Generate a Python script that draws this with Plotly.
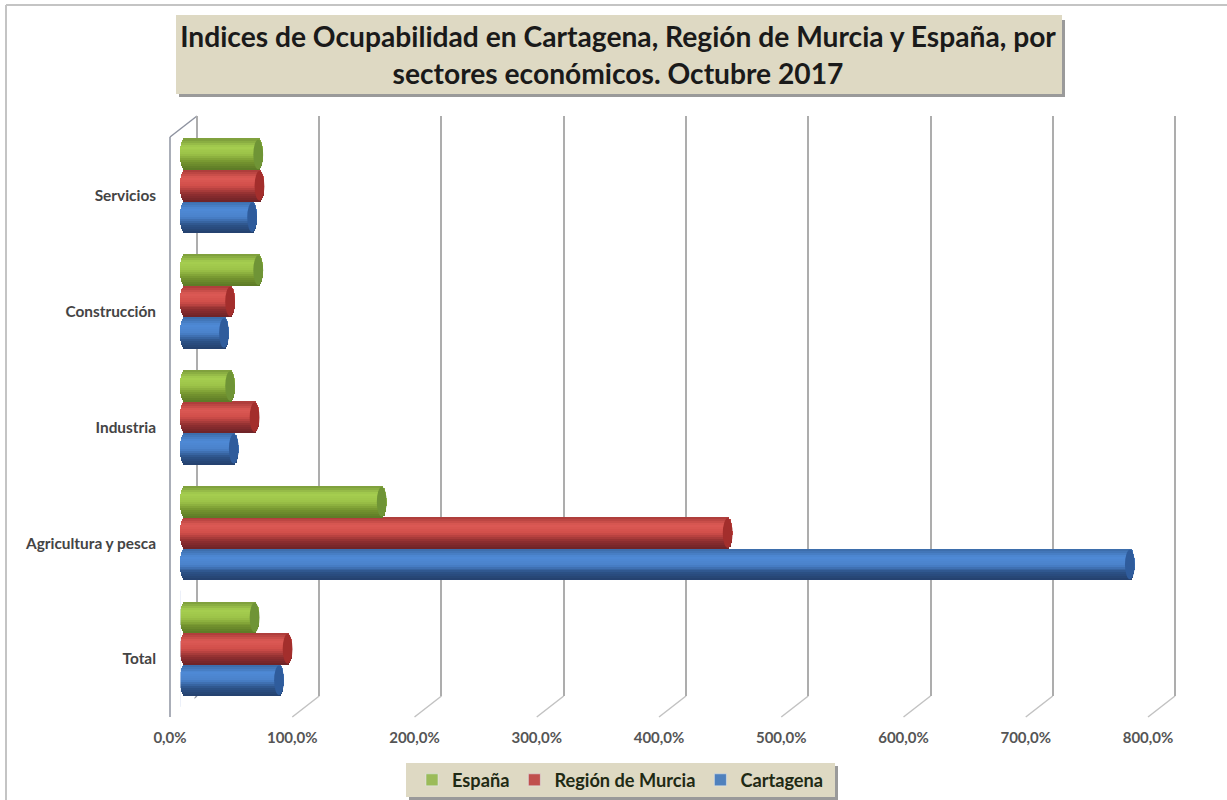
import plotly.graph_objects as go
import math

W, H = 1227, 800
categories = ["Total", "Agricultura y pesca", "Industria", "Construcción", "Servicios"]
espana = [65, 169, 45, 68, 68]
murcia = [92, 452, 65, 45, 69]
cartagena = [85, 781, 48, 40, 63]
value_ticks = [0, 100, 200, 300, 400, 500, 600, 700, 800]
value_labels = ["0,0%", "100,0%", "200,0%", "300,0%", "400,0%", "500,0%", "600,0%", "700,0%", "800,0%"]

def px(x): return x / W
def py(y): return 1 - y / H

PER_100 = 122.25
PAD = 2  # axis units added each side of the back-wall axis so that its 0 and 800 gridlines are kept

series = [
    ("Cartagena", cartagena, -0.406, ["#3a6aa6", "#4f8ad6", "#4a82cb", "#2c5288", "#24406c"], "#2f5c9c", "#4f81bd"),
    ("Región de Murcia", murcia, -0.135, ["#a83a38", "#dd5a55", "#d04e4a", "#8f2f30", "#6c2227"], "#a32e2c", "#c0504d"),
    ("España", espana, 0.136, ["#7a9a3a", "#a6cf50", "#9cc248", "#74942f", "#5b7826"], "#6f9436", "#9bbb59"),
]
THICK = 0.272
N = 16
CAP = 4.0  # half-width of the end ellipse, in axis units

def lerp_stops(stops, t):
    s = t * (len(stops) - 1)
    i = min(int(s), len(stops) - 2)
    f = s - i
    a = [int(stops[i][j:j + 2], 16) for j in (1, 3, 5)]
    b = [int(stops[i + 1][j:j + 2], 16) for j in (1, 3, 5)]
    return "rgb(%d,%d,%d)" % tuple(round(a[k] + (b[k] - a[k]) * f) for k in range(3))

fig = go.Figure()

# invisible trace that makes the back-wall axes (first subplot, drawn beneath the bars) exist
fig.add_trace(go.Scatter(x=[0, 800], y=[0, 1], xaxis="x", yaxis="y", mode="markers",
                         marker=dict(opacity=0), showlegend=False, hoverinfo="skip"))

for name, values, off, stops, cap, legend_col in series:
    for k in range(N):
        t = (k + 0.5) / N
        u = 2 * t - 1
        inset = CAP * (1 - math.sqrt(max(0, 1 - u * u)))
        fig.add_trace(go.Bar(
            y=categories,
            x=[v - 2 * inset for v in values],
            base=[inset] * len(values),
            orientation="h",
            width=THICK / N * 1.15,
            offset=off + THICK * k / N,
            marker=dict(color=lerp_stops(stops[::-1], t), line=dict(width=0)),
            showlegend=False, hoverinfo="skip", xaxis="x2", yaxis="y2",
        ))

for name, values, off, stops, cap, legend_col in reversed(series):
    fig.add_trace(go.Bar(y=[categories[0]], x=[0], orientation="h", name=name,
                         marker=dict(color=legend_col), xaxis="x2", yaxis="y2", hoverinfo="skip"))

shapes = []
shapes.append(dict(type="line", xref="paper", yref="paper", x0=px(6), x1=px(6), y0=py(5), y1=py(800),
                   line=dict(color="#c4c4c4", width=2), layer="below"))
shapes.append(dict(type="line", xref="paper", yref="paper", x0=px(6), x1=px(1227), y0=py(5), y1=py(5),
                   line=dict(color="#c4c4c4", width=2), layer="below"))
shapes.append(dict(type="rect", xref="paper", yref="paper", x0=px(179), x1=px(1065), y0=py(20), y1=py(97),
                   fillcolor="#9a9a9a", line=dict(width=0), layer="below"))
shapes.append(dict(type="rect", xref="paper", yref="paper", x0=px(176), x1=px(1062), y0=py(15), y1=py(94),
                   fillcolor="#ded9c3", line=dict(width=0), layer="below"))
shapes.append(dict(type="rect", xref="paper", yref="paper", x0=px(409), x1=px(838), y0=py(766), y1=py(800),
                   fillcolor="#9a9a9a", line=dict(width=0), layer="below"))
shapes.append(dict(type="rect", xref="paper", yref="paper", x0=px(406), x1=px(835), y0=py(763), y1=py(797),
                   fillcolor="#ded9c3", line=dict(width=0), layer="below"))
WALL = "#8e93a0"
shapes.append(dict(type="line", xref="paper", yref="paper", x0=px(170), x1=px(170), y0=py(137), y1=py(717),
                   line=dict(color=WALL, width=1.5), layer="below"))
shapes.append(dict(type="line", xref="paper", yref="paper", x0=px(170), x1=px(197), y0=py(137), y1=py(116),
                   line=dict(color=WALL, width=1.5), layer="below"))
for v in value_ticks:
    shapes.append(dict(type="line", xref="x", xsizemode="pixel", xanchor=v, x0=0, x1=-27,
                       yref="paper", y0=py(696), y1=py(717),
                       line=dict(color="#8e93a0" if v == 0 else "#c2c2c2", width=1.5), layer="below"))
for name, values, off, stops, cap, legend_col in series:
    for i, v in enumerate(values):
        shapes.append(dict(
            type="circle", xref="x2", yref="paper", layer="above",
            x0=v - 2 * CAP, x1=v,
            y0=py(649 - 115.75 * i - (off + THICK * 0.03) * 115.75),
            y1=py(649 - 115.75 * i - (off + THICK * 0.97) * 115.75),
            fillcolor=cap, line=dict(width=0)))

pad_px = PAD * PER_100 / 100
fig.update_layout(
    width=W, height=H, margin=dict(l=0, r=0, t=0, b=0, pad=0, autoexpand=False),
    paper_bgcolor="white", plot_bgcolor="rgba(0,0,0,0)",
    barmode="overlay", bargap=0,
    font=dict(family="Lato", color="#333333"),
    title=dict(
        text="Indices de Ocupabilidad en Cartagena, Región de Murcia y España, por<br>sectores económicos. Octubre 2017",
        font=dict(family="Lato", size=28.2, color="#1a1a1a", weight="bold"),
        x=px(618), xanchor="center", y=py(47), yanchor="middle",
    ),
    xaxis=dict(domain=[px(197 - pad_px), px(197 + 8 * PER_100 + pad_px)], range=[-PAD, 800 + PAD],
               tickmode="array", tickvals=value_ticks, ticktext=value_labels,
               showgrid=True, gridcolor="#adadad", gridwidth=2, zeroline=False, showline=False, ticks="",
               ticklabelshift=-27, ticklabelstandoff=31, anchor="y", side="bottom",
               tickfont=dict(family="Lato", size=15, color="#555555", weight="bold")),
    yaxis=dict(domain=[py(696), py(116)], range=[0, 1], visible=False, anchor="x"),
    xaxis2=dict(domain=[px(180), px(180 + 8 * PER_100)], range=[0, 800], showgrid=False, zeroline=False,
                showticklabels=False, ticks="", showline=False, anchor="y2"),
    yaxis2=dict(domain=[py(707), py(128)], range=[-0.5, 4.5], type="category",
                categoryorder="array", categoryarray=categories,
                showgrid=False, zeroline=False, showline=False, ticks="",
                anchor="free", position=px(156), side="left", ticklabelshift=10,
                tickfont=dict(family="Lato", size=15.4, color="#444444", weight="bold")),
    shapes=shapes,
    showlegend=True,
    legend=dict(orientation="h", x=px(412), xanchor="left", y=py(780), yanchor="middle",
                bgcolor="rgba(0,0,0,0)", borderwidth=0, traceorder="normal",
                font=dict(family="Lato", size=18.2, color="#1f2a14", weight="bold"),
                itemclick=False, itemdoubleclick=False),
)

fig.write_html("out.html", config={"displayModeBar": False},
               post_script="document.body.style.margin='0';")
